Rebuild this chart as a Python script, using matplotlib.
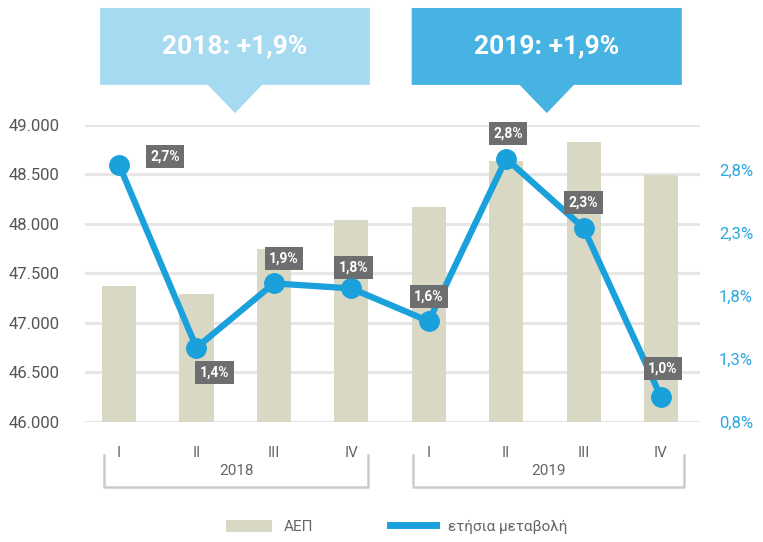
import matplotlib.pyplot as plt
from matplotlib.patches import Polygon, Patch
from matplotlib.lines import Line2D
import matplotlib.transforms as mtransforms

# Δεδομένα
tromina = ["I", "II", "III", "IV", "I", "II", "III", "IV"]
etos = ["2018", "2019"]
aep = [47375, 47295, 47750, 48040, 48175, 48635, 48830, 48495]
metavoli = [2.84, 1.39, 1.90, 1.86, 1.60, 2.89, 2.34, 1.00]
etiketes = ["2,7%", "1,4%", "1,9%", "1,8%", "1,6%", "2,8%", "2,3%", "1,0%"]
etisia = ["2018: +1,9%", "2019: +1,9%"]

# offsets of the value labels (pixels)
offsets = [(46, 8), (18, -25), (10, 25), (2, 21), (0, 25), (2, 25), (0, 25), (2, 28)]

plt.rcParams['font.family'] = ['Roboto', 'DejaVu Sans']

fig = plt.figure(figsize=(7.63, 5.42), dpi=100)
ax = fig.add_axes([0.1114, 0.2214, 0.8056, 0.548])
ax2 = ax.twinx()

x = list(range(len(aep)))
ax.bar(x, aep, width=0.44, color="#D8D8C4", zorder=2)
ax.set_ylim(46000, 49000)
ax.set_xlim(-0.44, 7.5)
ax.set_yticks(range(46000, 49001, 500))
ax.set_yticklabels([f"{v:,}".replace(",", ".") for v in range(46000, 49001, 500)])
ax.grid(axis="y", color="#E6E6E6", linewidth=2.2, zorder=0)
ax.set_axisbelow(True)
ax.set_xticks(x)
ax.set_xticklabels(tromina)
ax.tick_params(axis="both", length=0, colors="#666666", labelsize=11)
ax.tick_params(axis="y", pad=18, labelcolor="#555555", labelsize=12)
ax.tick_params(axis="x", pad=17)
for s in ax.spines.values():
    s.set_visible(False)

ax2.plot(x, metavoli, color="#1AA0DB", linewidth=4.5, marker="o", markersize=14,
         solid_capstyle="round", zorder=3)
ax2.set_ylim(0.8, 3.157)
ax2.set_yticks([0.8, 1.3, 1.8, 2.3, 2.8])
ax2.set_yticklabels(["0,8%", "1,3%", "1,8%", "2,3%", "2,8%"])
ax2.tick_params(axis="y", length=0, pad=14, labelcolor="#2AA8E0", labelsize=12)
for s in ax2.spines.values():
    s.set_visible(False)

for xi, yi, lab, off in zip(x, metavoli, etiketes, offsets):
    ax2.annotate(lab, (xi, yi), xytext=off, textcoords="offset pixels",
                 ha="center", va="center", color="white", fontsize=10, fontweight="bold",
                 bbox=dict(boxstyle="square,pad=0.32", facecolor="#6D6E70", edgecolor="none"),
                 zorder=5)

trans = mtransforms.blended_transform_factory(ax.transData, ax.transAxes)

# brackets under the quarters
brackets = [(-0.19, 3.22), (3.80, 7.30)]
for (a, b), lab in zip(brackets, etos):
    ax.plot([a, a, b, b], [-0.111, -0.219, -0.219, -0.111], transform=trans,
            color="#CCCCCC", linewidth=1.8, clip_on=False)
    ax.text((a + b) / 2, -0.165, lab, transform=trans, ha="center", va="center",
            color="#666666", fontsize=11)

# callout boxes at the top
callouts = [(-0.245, 3.24, "#A6DAF1"), (3.78, 7.27, "#47B3E3")]
for (a, b, col), lab in zip(callouts, etisia):
    m = (a + b) / 2
    box = Polygon([(a, 1.135), (a, 1.394), (b, 1.394), (b, 1.135),
                   (m + 0.35, 1.135), (m, 1.040), (m - 0.35, 1.135)],
                  closed=True, facecolor=col, edgecolor="none", transform=trans,
                  clip_on=False)
    ax.add_patch(box)
    ax.text(m, 1.265, lab, transform=trans, ha="center", va="center", color="white",
            fontsize=19, fontweight="bold")

handles = [Patch(facecolor="#D8D8C4", edgecolor="none"),
           Line2D([0], [0], color="#1AA0DB", linewidth=5)]
fig.legend(handles, ["ΑΕΠ", "ετήσια μεταβολή"], loc="center", ncol=2,
           bbox_to_anchor=(0.52, 0.028), frameon=False, handlelength=3,
           handleheight=0.9, columnspacing=5, fontsize=11, labelcolor="#666666")

fig.savefig("out.png", dpi=100)
